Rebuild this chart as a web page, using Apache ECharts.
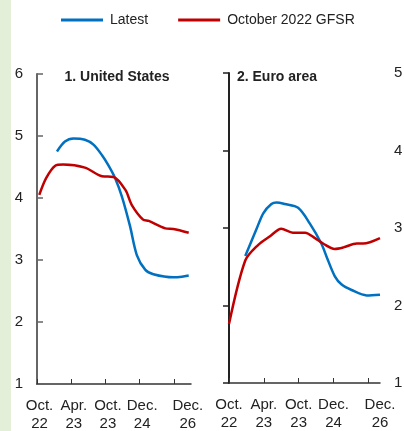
<!DOCTYPE html>
<html>
<head>
<meta charset="utf-8">
<script src="https://cdn.jsdelivr.net/npm/echarts@6/dist/echarts.min.js"></script>
<style>
  html, body { margin: 0; padding: 0; background: #fff; }
  .wrap { position: relative; width: 404px; height: 431px; }
  .strip { position: absolute; left: 0; top: 0; width: 11px; height: 431px; background: #e3efd9; }
  #chart { position: absolute; left: 0; top: 0; width: 404px; height: 431px; }
</style>
</head>
<body>
<div class="wrap">
  <div class="strip"></div>
  <div id="chart"></div>
</div>
<script>
  // tick labels on the x axis
  var xLabels = ['Oct.\n22', 'Apr.\n23', 'Oct.\n23', 'Dec.\n24', 'Dec.\n26']
  var xTickPos = [0, 6, 12, 18, 24]
  var usLabelPos = [0, 6, 12, 18, 26]
  var euLabelPos = [0, 6, 12, 18, 26]

  // United States: [x, rate]
  var usLatest = [[3.5, 4.75], [4.9, 4.91], [6.4, 4.96], [8.4, 4.94], [9.9, 4.86], [11.4, 4.69],
    [12.5, 4.53], [13.7, 4.32], [14.9, 4.02], [16.3, 3.55], [17.5, 3.08], [19.0, 2.84],
    [20.4, 2.77], [23.9, 2.72], [25.4, 2.73], [26.6, 2.75]]
  var usOct22 = [[0.4, 4.05], [1.6, 4.32], [3.2, 4.52], [4.6, 4.54], [8.4, 4.49], [11.4, 4.35],
    [13.4, 4.34], [15.5, 4.13], [16.6, 3.89], [18.6, 3.65], [19.6, 3.63], [22.5, 3.51],
    [23.9, 3.50], [26.6, 3.44]]

  // Euro area: [x, rate]
  var euLatest = [[2.8, 2.64], [4.7, 2.98], [5.9, 3.19], [7.3, 3.31], [8.2, 3.33], [9.6, 3.31],
    [11.9, 3.26], [13.9, 3.06], [15.9, 2.80], [16.8, 2.63], [18.2, 2.38], [19.4, 2.27],
    [21.1, 2.20], [23.7, 2.13], [26, 2.14]]
  var euOct22 = [[0, 1.76], [2.8, 2.58], [5.0, 2.78], [7.0, 2.89], [9.0, 2.99], [11.0, 2.94],
    [13.1, 2.94], [14.8, 2.87], [16.2, 2.80], [18.2, 2.73], [19.7, 2.75], [22.0, 2.80],
    [23.1, 2.80], [26, 2.87]]

  var font = "'Liberation Sans', Arial, sans-serif"
  var blue = '#0070c0'
  var red = '#c00000'

  function xAxisFor (gridIndex, max, labelPos, shift) {
    return {
      type: 'value',
      gridIndex: gridIndex,
      min: 0,
      max: max,
      interval: 6,
      splitLine: {show: false},
      axisLine: {lineStyle: {color: '#333', width: 1.5}},
      axisTick: {show: true, inside: true, length: 5, customValues: xTickPos, lineStyle: {color: '#333'}},
      axisLabel: {
        customValues: labelPos,
        color: '#222',
        fontFamily: font,
        fontSize: 15,
        lineHeight: 18,
        margin: 13,
        padding: [0, 0, 0, shift],
        formatter: function (v) {
          var i = labelPos.indexOf(v)
          return i >= 0 ? xLabels[i] : ''
        }
      }
    }
  }

  function yAxisFor (gridIndex, min, max, pos, color) {
    return {
      type: 'value',
      gridIndex: gridIndex,
      position: pos,
      min: min,
      max: max,
      interval: 1,
      splitLine: {show: false},
      axisLine: {show: true, lineStyle: {color: color, width: 2}},
      axisTick: {show: true, inside: true, length: 6, lineStyle: {color: color, width: 1.5}},
      axisLabel: {color: '#222', fontFamily: font, fontSize: 15, margin: 14}
    }
  }

  function lineSeries (name, data, color, xi, yi) {
    return {
      name: name,
      type: 'line',
      xAxisIndex: xi,
      yAxisIndex: yi,
      data: data,
      symbol: 'none',
      smooth: 0.3,
      lineStyle: {color: color, width: 2.5},
      itemStyle: {color: color}
    }
  }

  var chart = echarts.init(document.getElementById('chart'), null, {renderer: 'canvas'})
  chart.setOption({
    animation: false,
    textStyle: {fontFamily: font},
    legend: {
      top: 13,
      left: 61,
      padding: 0,
      icon: 'rect',
      itemWidth: 42,
      itemHeight: 3,
      itemGap: 30,
      textStyle: {fontFamily: font, fontSize: 14, color: '#222', padding: [0, 0, 0, 2]},
      data: ['Latest', 'October 2022 GFSR']
    },
    title: [
      {text: '1. United States', left: 112, top: 65, textAlign: 'center',
        textStyle: {fontFamily: font, fontSize: 14, fontWeight: 'bold', color: '#222'}},
      {text: '2. Euro area', left: 272, top: 65, textAlign: 'center',
        textStyle: {fontFamily: font, fontSize: 14, fontWeight: 'bold', color: '#222'}}
    ],
    grid: [
      {left: 37, top: 74, width: 154, height: 310, outerBoundsMode: 'none'},
      {left: 229, top: 73, width: 151, height: 310, outerBoundsMode: 'none'}
    ],
    xAxis: [xAxisFor(0, 27, usLabelPos, 5), xAxisFor(1, 26, euLabelPos, 0)],
    yAxis: [yAxisFor(0, 1, 6, 'left', '#666'), yAxisFor(1, 1, 5, 'right', '#222')],
    series: [
      lineSeries('Latest', usLatest, blue, 0, 0),
      lineSeries('October 2022 GFSR', usOct22, red, 0, 0),
      lineSeries('Latest', euLatest, blue, 1, 1),
      lineSeries('October 2022 GFSR', euOct22, red, 1, 1)
    ]
  })
</script>
</body>
</html>
